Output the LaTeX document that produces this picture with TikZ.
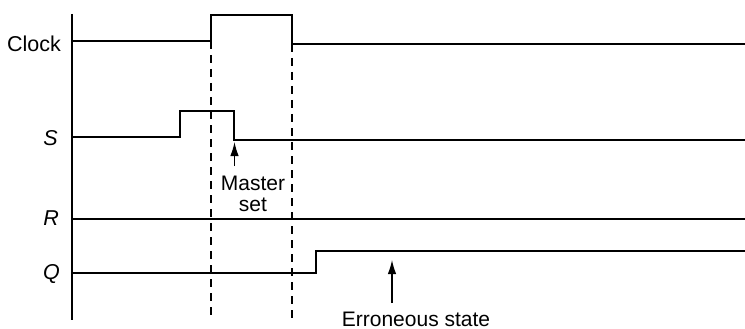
\documentclass[tikz,border=0pt]{standalone}
\usepackage{fontspec}
\setmainfont{Liberation Sans}
\usetikzlibrary{arrows.meta}
\tikzset{
  wave/.style={line width=1.2pt,line join=miter},
  marker/.style={line width=1.1pt,dash pattern=on 8pt off 6pt},
  pointer/.style={line width=1.2pt,-{Latex[length=14pt,width=8.5pt]}},
  siglabel/.style={anchor=base east,inner sep=0pt,font=\fontsize{21.5}{22}\selectfont},
  note/.style={inner sep=0pt,align=center,font=\fontsize{21}{21}\selectfont}
}
\begin{document}
\begin{tikzpicture}[x=1pt,y=-1pt]
\useasboundingbox (0,0) rectangle (745,329);
% time axis
\draw[wave] (72,14) -- (72,320);
% signal names
\node[siglabel] (clk) at (61,52) {Clock};
\node[siglabel] (s) at (58,146) {\itshape S};
\node[siglabel] (r) at (59,225) {\itshape R};
\node[siglabel] (q) at (60,279) {\itshape Q};
% waveforms
\draw[wave] (72,41) -- (211,41) -- (211,15) -- (292,15) -- (292,44) -- (745,44);
\draw[wave] (72,137) -- (180,137) -- (180,111) -- (234,111) -- (234,140) -- (745,140);
\draw[wave] (72,219) -- (745,219);
\draw[wave] (72,273) -- (316,273) -- (316,251) -- (745,251);
% clock edges
\coordinate (up) at (211,41);
\coordinate (down) at (292,44);
\draw[marker] (up) -- (211,318);
\draw[marker] (down) -- (292,318);
% notes
\coordinate (sfall) at (234.5,142);
\coordinate (qhigh) at (392,260);
\node[note] (master) at (253,194) {Master\\set};
\node[note,anchor=base] (err) at (416,326) {Erroneous state};
\draw[pointer] (234.5,166) -- (sfall);
\draw[pointer] (392,303) -- (qhigh);
\end{tikzpicture}
\end{document}
